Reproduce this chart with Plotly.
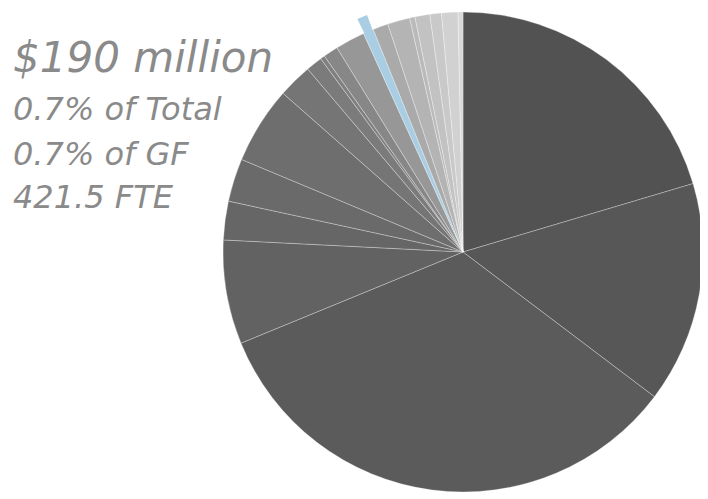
import math
import plotly.graph_objects as go

# share of total budget, clockwise from 12 o'clock
slice_values = [ 20.4, 14.9, 33.5, 7.0, 2.6, 2.9, 5.2, 2.3, 1.1, 0.3, 1.0, 2.0,
                 0.7, 1.03, 1.5, 0.36, 1.0, 0.78, 1.1, 0.33 ]
slice_colors = [ '#525252', '#575757', '#5b5b5b', '#626262', '#666666', '#6a6a6a',
                 '#6e6e6e', '#757575', '#7b7b7b', '#808080', '#878787', '#979797',
                 '#a9cee4', '#aaaaaa', '#b4b4b4', '#bababa', '#c2c2c2', '#c9c9c9',
                 '#d1d1d1', '#d9d9d9' ]
highlight = 12  # the pulled-out slice

info_lines = [ '$190 million', '0.7% of Total', '0.7% of GF', '421.5 FTE' ]

# page body has an 8px margin, so the figure is a bit smaller than the window
W, H = 700, 491
CX, CY, R = 455, 244, 240   # main pie centre / radius in figure pixels
R_OUT = 110                 # radius of the helper pie that draws the pulled slice

def dom( cx, cy, r ) :
    return dict( x = [ max( 0, ( cx - r ) / W ), min( 1, ( cx + r ) / W ) ],
                 y = [ max( 0, 1 - ( cy + r ) / H ), min( 1, 1 - ( cy - r ) / H ) ] )

fig = go.Figure( )

# ---- full pie -------------------------------------------------------------
fig.add_trace( go.Pie(
    values = slice_values,
    sort = False,
    direction = 'clockwise',
    rotation = 0,
    marker = dict( colors = slice_colors,
                   line = dict( color = 'rgba(255,255,255,0.5)', width = 0.6 ) ),
    textinfo = 'none',
    hoverinfo = 'skip',
    showlegend = False,
    domain = dom( CX, CY, R )
) )

# ---- pulled-out slice -----------------------------------------------------
# a smaller pie, centred further out along the slice bisector, whose wedge
# has the same width at the tip as the real slice
total = sum( slice_values )
before = sum( slice_values[ :highlight ] )
share = slice_values[ highlight ]
mid = before + share / 2
wedge = share * R / R_OUT
bis = 2 * math.pi * mid / total
d = ( CY - R_OUT ) / math.cos( bis )
ax = CX + d * math.sin( bis )
ay = CY - d * math.cos( bis )

fig.add_trace( go.Pie(
    values = [ mid - wedge / 2, wedge, total - mid - wedge / 2 ],
    sort = False,
    direction = 'clockwise',
    rotation = 0,
    marker = dict( colors = [ 'rgba(0,0,0,0)', slice_colors[ highlight ], 'rgba(0,0,0,0)' ],
                   line = dict( width = 0 ) ),
    textinfo = 'none',
    hoverinfo = 'skip',
    showlegend = False,
    domain = dom( ax, ay, R_OUT )
) )

# ---- text block on the left ----------------------------------------------
ys = [ 49.2, 100.9, 145.9, 189.2 ]
sizes = [ 42, 32, 32, 32 ]
for txt, yy, sz in zip( info_lines, ys, sizes ) :
    fig.add_annotation(
        x = 3 / W, y = 1 - yy / H, xref = 'paper', yref = 'paper',
        xanchor = 'left', yanchor = 'middle',
        text = txt, showarrow = False,
        font = dict( family = 'DejaVu Sans', size = sz, color = '#8a8a8a', style = 'italic' )
    )

fig.update_layout(
    width = W, height = H,
    margin = dict( l = 0, r = 0, t = 0, b = 0 ),
    paper_bgcolor = 'white',
    plot_bgcolor = 'white'
)

fig.write_html( 'out.html' )
